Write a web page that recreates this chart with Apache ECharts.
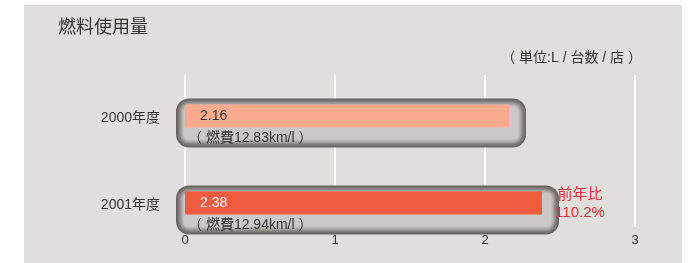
<!DOCTYPE html>
<html>
<head>
<meta charset="utf-8">
<script src="https://cdn.jsdelivr.net/npm/echarts@6/dist/echarts.min.js"></script>
<style>
  html, body { margin: 0; padding: 0; background: #fff; }
  #main { width: 698px; height: 263px; }
</style>
</head>
<body>
<div id="main"></div>
<script>
// データ
var categories = ['2000年度', '2001年度'];
var usage = [2.16, 2.38];            // 燃料使用量
var fuelEconomy = ['12.83', '12.94']; // 燃費 km/l
var prevRatio = [null, '110.2%'];    // 前年比
var xMin = 0, xMax = 3, xStep = 1;

var barColors = ['#f9aa8f', '#f05b3f'];
var valueColors = ['#333333', '#ffffff'];
var rimColors = ['#6b6563', '#716b69', '#7c7674', '#8a8482', '#9a9491', '#aaa4a1', '#b8b3b0', '#c4bfbc', '#cdc8c5'];
var font = "'Liberation Sans', 'Noto Sans CJK JP', sans-serif";

var chart = echarts.init(document.getElementById('main'));

function renderCapsule(params, api) {
  var idx = api.value(1);
  var p0 = api.coord([0, idx]);
  var p1 = api.coord([api.value(0), idx]);
  var cy = p0[1];
  var left = p0[0] - 9, right = p1[0] + 17;
  var top = cy - 20, h = 49;
  var children = [];
  // 外枠のグラデーション
  rimColors.forEach(function (c, i) {
    children.push({
      type: 'rect',
      shape: { x: left + i, y: top + i, width: right - left - 2 * i, height: h - 2 * i, r: Math.max(13 - i, 3) },
      style: { fill: c }
    });
  });
  // 中のバー
  children.push({
    type: 'rect',
    shape: { x: p0[0], y: cy - 14, width: p1[0] - p0[0], height: 23 },
    style: { fill: barColors[idx] }
  });
  children.push({
    type: 'text',
    style: { text: usage[idx].toFixed(2), x: p0[0] + 15, y: cy - 2.5, verticalAlign: 'middle',
      fill: valueColors[idx], font: '14px ' + font }
  });
  children.push({
    type: 'text',
    style: { text: '（ 燃費' + fuelEconomy[idx] + 'km/l ）', x: p0[0] + 3, y: cy + 19.5, verticalAlign: 'middle',
      fill: '#333', font: '14px ' + font }
  });
  if (prevRatio[idx]) {
    children.push({
      type: 'text',
      style: { text: '前年比', x: right + 21, y: cy - 11, align: 'center', verticalAlign: 'middle',
        fill: '#e0323c', font: '15px ' + font }
    });
    children.push({
      type: 'text',
      style: { text: prevRatio[idx], x: right + 21, y: cy + 7, align: 'center', verticalAlign: 'middle',
        fill: '#e0323c', font: '15px ' + font }
    });
  }
  return { type: 'group', children: children };
}

var option = {
  animation: false,
  title: {
    text: '燃料使用量', left: 53, top: 14,
    textStyle: { fontSize: 18, fontWeight: 'normal', color: '#333', fontFamily: font }
  },
  graphic: [
    { type: 'rect', z: -10, silent: true, shape: { x: 24, y: 5, width: 658, height: 258 }, style: { fill: '#e2dedb' } },
    { type: 'text', z: 10, style: { text: '（ 単位:L / 台数 / 店 ）', x: 642, y: 58, align: 'right', verticalAlign: 'middle',
        fill: '#333', font: '14px ' + font } }
  ],
  grid: [
    { left: 185, right: 63, top: 75, bottom: 14 },
    { left: 185, right: 63, top: 75, bottom: 36 }
  ],
  xAxis: [
    { gridIndex: 0, type: 'value', min: xMin, max: xMax, interval: xStep, show: false },
    {
      gridIndex: 1, type: 'value', min: xMin, max: xMax, interval: xStep,
      axisLine: { show: false }, axisTick: { show: false },
      splitLine: { show: true, lineStyle: { color: '#ffffff', width: 2 } },
      axisLabel: { color: '#333', fontSize: 13, margin: 7, fontFamily: font }
    }
  ],
  yAxis: [
    {
      gridIndex: 0, type: 'category', inverse: true, data: categories,
      axisLine: { show: false }, axisTick: { show: false }, splitLine: { show: false },
      axisLabel: { color: '#333', fontSize: 14, margin: 25, fontFamily: font }
    },
    { gridIndex: 1, type: 'value', show: false, splitLine: { show: false } }
  ],
  series: [{
    type: 'custom',
    xAxisIndex: 0, yAxisIndex: 0,
    z: 5,
    renderItem: renderCapsule,
    data: usage.map(function (v, i) { return [v, i]; })
  }]
};
chart.setOption(option);
</script>
</body>
</html>
